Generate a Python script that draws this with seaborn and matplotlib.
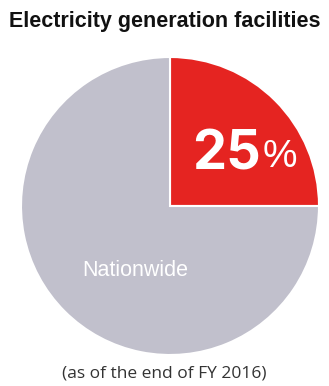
import numpy as np
from matplotlib import pyplot as plt
import seaborn as sns

sns.set_style("white")

labels = ["Electricity generation facilities", "Nationwide"]
shares = [25, 75]
colors = ["#e52421", "#c1c0cc"]

fig = plt.figure(figsize=(3.29, 3.86), dpi=100)
ax = fig.add_axes([0, 0, 1, 1])

ax.pie(shares, colors=colors, startangle=90, counterclock=False,
       center=(170, 180), radius=149, frame=True,
       wedgeprops=dict(edgecolor="white", linewidth=1.5))
ax.set_xlim(0, 329)
ax.set_ylim(0, 386)
ax.set_aspect("equal")
ax.axis("off")

fig.text(0.5, 1 - 22 / 386, labels[0], ha="center", va="center",
         fontsize=15.5, fontweight="bold", family="Liberation Sans", color="#111111")

ax.text(261, 386 - 155, f"{shares[0]}", ha="right", va="center",
        fontsize=39, fontweight="bold", family="Inter", color="white")
ax.text(263, 386 - 157, "%", ha="left", va="center",
        fontsize=28, family="Liberation Sans", color="white")

ax.text(135, 386 - 270, labels[1], ha="center", va="center",
        fontsize=15.5, family="Liberation Sans", color="white")

fig.text(0.5, 1 - 373 / 386, "(as of the end of FY 2016)", ha="center", va="center",
         fontsize=12.5, family="Open Sans", color="#333333")

fig.savefig("out.png", dpi=100)
